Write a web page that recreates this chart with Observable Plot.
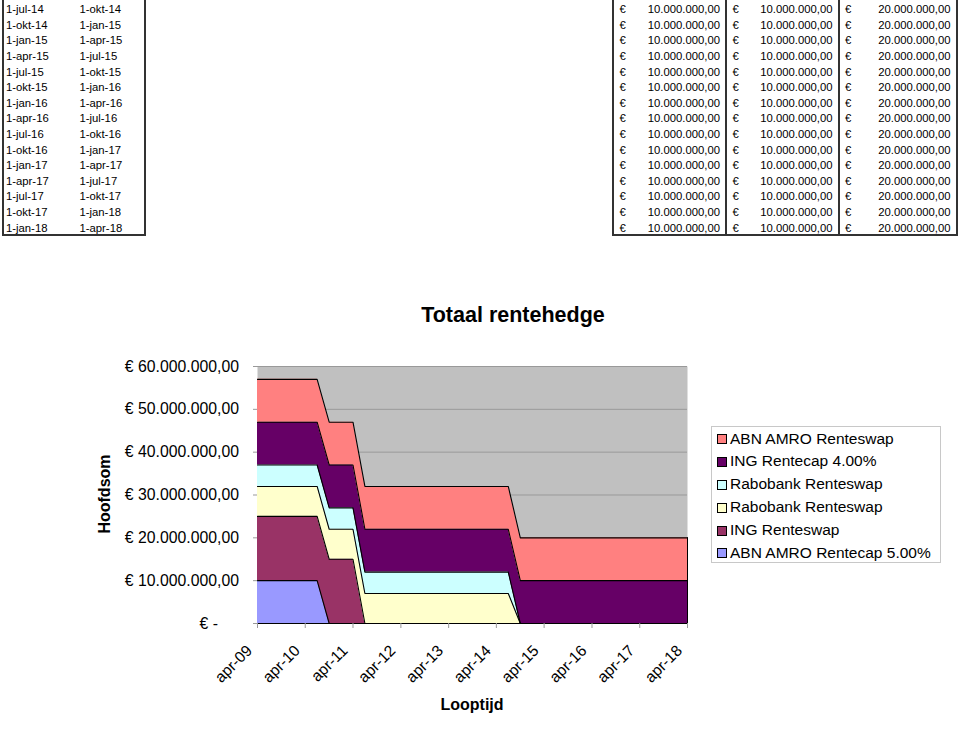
<!DOCTYPE html>
<html><head><meta charset="utf-8">
<script src="https://cdn.jsdelivr.net/npm/d3@7"></script>
<script src="https://cdn.jsdelivr.net/npm/@observablehq/plot@0.6"></script>
<style>
html,body{margin:0;padding:0;background:#fff;}
body{width:960px;height:732px;position:relative;overflow:hidden;font-family:"Liberation Sans",Arial,sans-serif;color:#000;}
.abs{position:absolute;white-space:nowrap;}
.vline{position:absolute;background:#333;width:2px;}
.hline{position:absolute;background:#333;height:2px;}
</style></head><body>
<div id="chart" class="abs" style="left:0;top:0;"></div>
<div id="table" class="abs" style="left:0;top:0;width:960px;height:240px;"></div>
<div id="title" class="abs" style="left:313px;top:305px;width:400px;text-align:center;font-weight:bold;font-size:21.5px;line-height:21.5px;">Totaal rentehedge</div>
<div id="ytitle" class="abs" style="left:54.5px;top:486px;width:100px;height:16px;text-align:center;font-weight:bold;font-size:16px;line-height:16px;transform:rotate(-90deg);transform-origin:50% 50%;">Hoofdsom</div>
<div id="xtitle" class="abs" style="left:372px;top:696.5px;width:200px;text-align:center;font-weight:bold;font-size:16px;line-height:16px;">Looptijd</div>
<div id="legend" class="abs" style="left:711px;top:426px;width:230px;height:137px;box-sizing:border-box;border:1px solid #c8c8c8;background:#fff;"></div>
<script>
// ---- Table data (spreadsheet rows above the chart) ----
const tableStart = ["1-jul-14","1-okt-14","1-jan-15","1-apr-15","1-jul-15","1-okt-15","1-jan-16","1-apr-16","1-jul-16","1-okt-16","1-jan-17","1-apr-17","1-jul-17","1-okt-17","1-jan-18"];
const tableEnd   = ["1-okt-14","1-jan-15","1-apr-15","1-jul-15","1-okt-15","1-jan-16","1-apr-16","1-jul-16","1-okt-16","1-jan-17","1-apr-17","1-jul-17","1-okt-17","1-jan-18","1-apr-18"];
const tableCol1  = ["10.000.000,00","10.000.000,00","10.000.000,00","10.000.000,00","10.000.000,00","10.000.000,00","10.000.000,00","10.000.000,00","10.000.000,00","10.000.000,00","10.000.000,00","10.000.000,00","10.000.000,00","10.000.000,00","10.000.000,00"];
const tableCol2  = ["10.000.000,00","10.000.000,00","10.000.000,00","10.000.000,00","10.000.000,00","10.000.000,00","10.000.000,00","10.000.000,00","10.000.000,00","10.000.000,00","10.000.000,00","10.000.000,00","10.000.000,00","10.000.000,00","10.000.000,00"];
const tableCol3  = ["20.000.000,00","20.000.000,00","20.000.000,00","20.000.000,00","20.000.000,00","20.000.000,00","20.000.000,00","20.000.000,00","20.000.000,00","20.000.000,00","20.000.000,00","20.000.000,00","20.000.000,00","20.000.000,00","20.000.000,00"];

// ---- Chart data: quarterly dates, values in millions of euro ----
const quarters = [
  "2009-04-01","2009-07-01","2009-10-01",
  "2010-01-01","2010-04-01","2010-07-01","2010-10-01",
  "2011-01-01","2011-04-01","2011-07-01","2011-10-01",
  "2012-01-01","2012-04-01","2012-07-01","2012-10-01",
  "2013-01-01","2013-04-01","2013-07-01","2013-10-01",
  "2014-01-01","2014-04-01","2014-07-01","2014-10-01",
  "2015-01-01","2015-04-01","2015-07-01","2015-10-01",
  "2016-01-01","2016-04-01","2016-07-01","2016-10-01",
  "2017-01-01","2017-04-01","2017-07-01","2017-10-01",
  "2018-01-01","2018-04-01"];

// series, bottom of the stack first
const seriesIds    = ["abnCap","ingSwap","raboYellow","raboCyan","ingCap","abnSwap"];
const seriesNames  = ["ABN AMRO Rentecap 5.00%","ING Renteswap","Rabobank Renteswap","Rabobank Renteswap","ING Rentecap 4.00%","ABN AMRO Renteswap"];
const seriesColors = ["#9999FF","#993366","#FFFFCC","#CCFFFF","#660066","#FF8080"];

const abnCap = [10,10,10, 10,10,10,0, 0,0,0,0, 0,0,0,0, 0,0,0,0, 0,0,0,0, 0,0,0,0, 0,0,0,0, 0,0,0,0, 0,0];
const ingSwap = [15,15,15, 15,15,15,15, 15,15,0,0, 0,0,0,0, 0,0,0,0, 0,0,0,0, 0,0,0,0, 0,0,0,0, 0,0,0,0, 0,0];
const raboYellow = [7,7,7, 7,7,7,7, 7,7,7,7, 7,7,7,7, 7,7,7,7, 7,7,7,0, 0,0,0,0, 0,0,0,0, 0,0,0,0, 0,0];
const raboCyan = [5,5,5, 5,5,5,5, 5,5,5,5, 5,5,5,5, 5,5,5,5, 5,5,5,0, 0,0,0,0, 0,0,0,0, 0,0,0,0, 0,0];
const ingCap = [10,10,10, 10,10,10,10, 10,10,10,10, 10,10,10,10, 10,10,10,10, 10,10,10,10, 10,10,10,10, 10,10,10,10, 10,10,10,10, 10,10];
const abnSwap = [10,10,10, 10,10,10,10, 10,10,10,10, 10,10,10,10, 10,10,10,10, 10,10,10,10, 10,10,10,10, 10,10,10,10, 10,10,10,10, 10,10];

// ---- Axis ticks ----
const yTickValues = [0,10,20,30,40,50,60];
const yTickLabels = ["€ -","€ 10.000.000,00","€ 20.000.000,00","€ 30.000.000,00","€ 40.000.000,00","€ 50.000.000,00","€ 60.000.000,00"];
const xTickDates  = ["2009-04-01","2010-04-01","2011-04-01","2012-04-01","2013-04-01","2014-04-01","2015-04-01","2016-04-01","2017-04-01","2018-04-01"];
const xTickLabels = ["apr-09","apr-10","apr-11","apr-12","apr-13","apr-14","apr-15","apr-16","apr-17","apr-18"];

// ---- build rows ----
const seriesValues = [abnCap, ingSwap, raboYellow, raboCyan, ingCap, abnSwap];
const dates = quarters.map(s => new Date(s + "T00:00:00Z"));
const rows = [];
seriesIds.forEach((id, si) => {
  dates.forEach((d, i) => rows.push({date: d, id, value: seriesValues[si][i]}));
});
const xTicks = xTickDates.map(s => new Date(s + "T00:00:00Z"));
const lastIdx = dates.length - 1;
const totalLast = d3.sum(seriesValues, v => v[lastIdx]);

const font = "'Liberation Sans', Arial, sans-serif";
const chart = Plot.plot({
  width: 960, height: 732,
  marginLeft: 257, marginRight: 273, marginTop: 366, marginBottom: 109,
  style: {background: "transparent", fontFamily: font, fontSize: "15.5px", color: "black", overflow: "visible"},
  x: {type: "utc", domain: [dates[0], dates[lastIdx]], label: null},
  y: {domain: [0, 60], label: null},
  color: {domain: seriesIds, range: seriesColors},
  marks: [
    Plot.frame({fill: "#C0C0C0", stroke: null}),
    Plot.gridY(yTickValues.filter(v => v > 0), {stroke: "#999", strokeOpacity: 1, strokeWidth: 1}),
    Plot.areaY(rows, Plot.stackY({x: "date", y: "value", z: "id", fill: "id", order: seriesIds})),
    Plot.lineY(rows, Plot.stackY2({x: "date", y: "value", z: "id", order: seriesIds, stroke: "black", strokeWidth: 1.1})),
    Plot.ruleY([0], {stroke: "black"}),
    Plot.ruleX([dates[lastIdx]], {y1: 0, y2: totalLast, stroke: "black"}),
    Plot.axisY(yTickValues.filter(v => v > 0), {
      tickFormat: d => yTickLabels[yTickValues.indexOf(d)],
      tickSize: 4, tickPadding: 14.5, stroke: "#999", fill: "black", fontSize: 15.8, label: null
    }),
    Plot.axisY([0], {
      tickFormat: () => yTickLabels[0],
      tickSize: 4, tickPadding: 35.5, stroke: "#999", fill: "black", fontSize: 15.8, label: null
    }),
    // tick marks only
    Plot.axisX(xTicks, {tickSize: 5, stroke: "#999", tickFormat: () => "", label: null}),
    // rotated tick labels, Excel-style (ending just left of the tick)
    Plot.axisX(xTicks, {
      tickFormat: d => xTickLabels[xTicks.findIndex(t => +t === +d)],
      tickRotate: -45, tickSize: 0, tickPadding: 24.5, dx: -8, fill: "black", fontSize: 15.6, label: null
    })
  ]
});
document.getElementById("chart").appendChild(chart);

// ---- legend (top entry = top of stack) ----
const legend = document.getElementById("legend");
const legendOrder = seriesIds.map((_, i) => i).reverse();
legendOrder.forEach((si, r) => {
  const row = document.createElement("div");
  row.className = "abs";
  row.style.cssText = `left:0;top:${0.5 + 22.9 * r}px;height:22.9px;line-height:22.9px;font-size:15.5px;`;
  row.innerHTML = `<span style="position:absolute;left:4.7px;top:6.45px;width:10px;height:10px;box-sizing:border-box;border:1px solid #000;background:${seriesColors[si]}"></span><span style="position:absolute;left:18px;">${seriesNames[si]}</span>`;
  legend.appendChild(row);
});

// ---- spreadsheet table ----
const table = document.getElementById("table");
function addDiv(css, html) {
  const el = document.createElement("div");
  el.className = "abs";
  el.style.cssText = css;
  if (html != null) el.textContent = html;
  table.appendChild(el);
  return el;
}
const rowH = 15.6, row0 = 10, fs = 11.3;
tableStart.forEach((s, i) => {
  const top = row0 + rowH * i - rowH / 2;
  const base = `top:${top}px;height:${rowH}px;line-height:${rowH}px;font-size:${fs}px;`;
  addDiv(base + "left:6px;", s);
  addDiv(base + "left:79.5px;", tableEnd[i]);
  const cols = [[tableCol1[i], 613, 726], [tableCol2[i], 726, 838.5], [tableCol3[i], 838.5, 956.5]];
  cols.forEach(([v, l, r]) => {
    addDiv(base + `left:${l + 6.5}px;`, "€");
    addDiv(base + `left:${l}px;width:${r - l - 6}px;text-align:right;`, v);
  });
});
// borders
[3, 145, 613, 726, 838.5, 956.5].forEach(x => {
  const el = document.createElement("div");
  el.className = "vline";
  el.style.cssText = `left:${x - 1}px;top:0;height:236px;`;
  table.appendChild(el);
});
[[2, 146], [612, 957.5]].forEach(([l, r]) => {
  const el = document.createElement("div");
  el.className = "hline";
  el.style.cssText = `left:${l}px;top:234px;width:${r - l}px;`;
  table.appendChild(el);
});
</script>
</body></html>
